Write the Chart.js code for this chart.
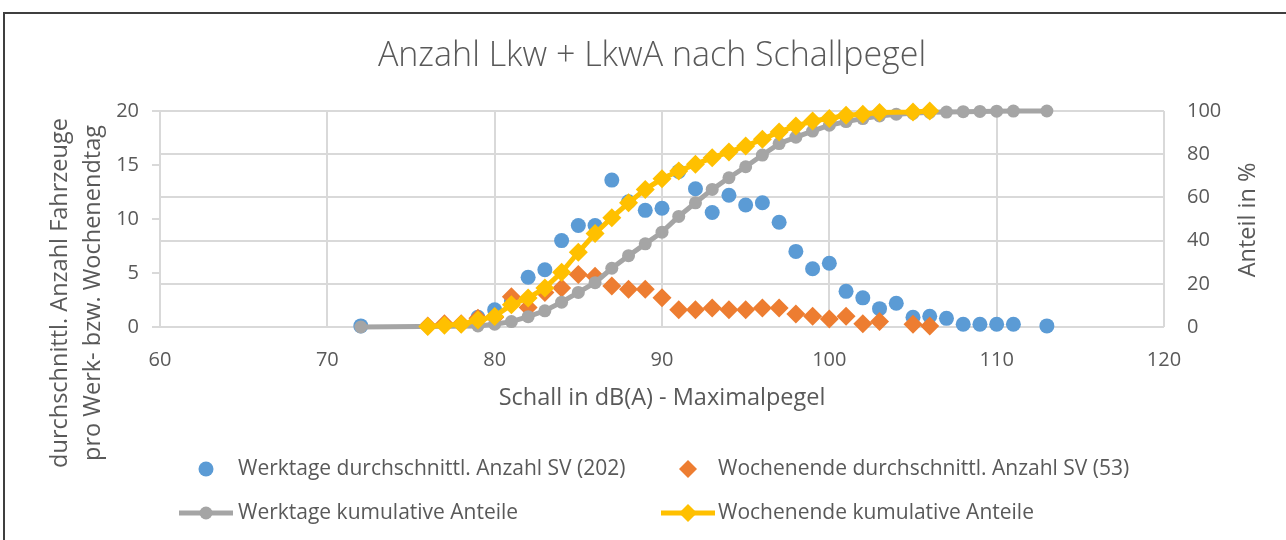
<!DOCTYPE html>
<html>
<head>
<meta charset="utf-8">
<script src="https://cdn.jsdelivr.net/npm/chart.js@4.4.0/dist/chart.umd.min.js"></script>
<style>
  body { margin: 0; background: #fff; }
  canvas { display: block; }
</style>
</head>
<body>
<canvas id="chart" width="1286" height="540"></canvas>
<script>
// Werktage (weekdays)
const werktageX = [72, 79, 80, 81, 82, 83, 84, 85, 86, 87, 88, 89, 90, 91, 92, 93, 94, 95, 96, 97,
    98, 99, 100, 101, 102, 103, 104, 105, 106, 107, 108, 109, 110, 111, 113]
const werktageSV = [0.1, 0.9, 1.6, 2.4, 4.6, 5.3, 8.0, 9.4, 9.4, 13.6, 11.6, 10.8, 11.0, 14.4, 12.8, 10.6, 12.2, 11.3, 11.5, 9.7,
    7.0, 5.4, 5.9, 3.3, 2.7, 1.7, 2.2, 0.9, 1.0, 0.8, 0.25, 0.25, 0.25, 0.25, 0.1]
const werktageKum = [0, 0.5, 1.3, 2.5, 4.8, 7.5, 11.5, 16.0, 20.5, 27.2, 33.0, 38.5, 43.9, 51.2, 57.5, 63.7, 69.1, 74.2, 79.6, 84.9,
    87.9, 90.7, 93.4, 95.1, 96.5, 97.7, 98.5, 98.9, 99.4, 99.5, 99.7, 99.8, 99.9, 99.95, 100]

// Wochenende (weekend)
const wochenendeX = [76, 77, 78, 79, 80, 81, 82, 83, 84, 85, 86, 87, 88, 89, 90,
    91, 92, 93, 94, 95, 96, 97, 98, 99, 100, 101, 102, 103, 105, 106]
const wochenendeSV = [0.1, 0.3, 0.3, 0.8, 0.9, 2.8, 1.8, 3.2, 3.6, 4.85, 4.7, 3.8, 3.5, 3.5, 2.7,
    1.6, 1.6, 1.75, 1.6, 1.6, 1.75, 1.75, 1.2, 1.0, 0.75, 1.0, 0.3, 0.5, 0.25, 0.1]
const wochenendeKum = [0.2, 0.8, 1.3, 3.2, 4.9, 10.3, 13.4, 18.1, 25.3, 34.6, 43.3, 50.6, 57.5, 63.7, 68.6,
    72.2, 75.3, 78.4, 81.0, 83.8, 86.9, 90.3, 93.0, 95.4, 96.5, 98.0, 98.5, 99.3, 99.5, 100]

const seriesNames = [
    'Werktage durchschnittl. Anzahl SV (202)',
    'Wochenende durchschnittl. Anzahl SV (53)',
    'Werktage kumulative Anteile',
    'Wochenende kumulative Anteile'
]
const chartTitle = 'Anzahl Lkw + LkwA nach Schallpegel'
const xTitle = 'Schall in dB(A) - Maximalpegel'
const yTitle = ['durchschnittl. Anzahl Fahrzeuge', 'pro Werk- bzw. Wochenendtag']
const y2Title = 'Anteil in %'

const textColor = '#595959'
const gridColor = '#d9d9d9'
const fontFamily = '"Open Sans", sans-serif'
const blue = '#5B9BD5', orange = '#ED7D31', gray = '#A5A5A5', yellow = '#FFC000'

function toPoints(xs, ys){
    return xs.map((x, i) => ({x: x, y: ys[i]}))
}

function diamond(ctx, x, y, r){
    ctx.beginPath()
    ctx.moveTo(x - r, y)
    ctx.lineTo(x, y - r)
    ctx.lineTo(x + r, y)
    ctx.lineTo(x, y + r)
    ctx.closePath()
    ctx.fill()
}

function dot(ctx, x, y, r){
    ctx.beginPath()
    ctx.arc(x, y, r, 0, Math.PI * 2)
    ctx.fill()
}

// title, axis titles, legend and frame drawn by hand
const chartText = {
    id: 'chartText',
    afterDraw(chart){
        const ctx = chart.ctx
        ctx.save()

        ctx.strokeStyle = '#3f3f3f'
        ctx.lineWidth = 2
        ctx.beginPath()
        ctx.moveTo(4, 540)
        ctx.lineTo(4, 13)
        ctx.lineTo(1286, 13)
        ctx.stroke()

        ctx.fillStyle = textColor
        ctx.textBaseline = 'middle'
        ctx.textAlign = 'center'
        ctx.font = '300 34px ' + fontFamily
        ctx.fillText(chartTitle, 652, 56)

        ctx.font = '23.5px ' + fontFamily
        ctx.fillText(xTitle, 662, 398)

        ctx.save()
        ctx.translate(60, 293)
        ctx.rotate(-Math.PI / 2)
        ctx.fillText(yTitle[0], 0, 0)
        ctx.fillText(yTitle[1], 0, 33)
        ctx.restore()

        ctx.save()
        ctx.translate(1248, 220)
        ctx.rotate(-Math.PI / 2)
        ctx.fillText(y2Title, 0, 0)
        ctx.restore()

        // legend
        ctx.textAlign = 'left'
        ctx.font = '21px ' + fontFamily
        ctx.fillStyle = blue
        dot(ctx, 206, 469, 7.5)
        ctx.fillStyle = orange
        diamond(ctx, 688, 469, 9)

        ctx.lineWidth = 5
        ctx.strokeStyle = gray
        ctx.beginPath(); ctx.moveTo(179, 513); ctx.lineTo(233, 513); ctx.stroke()
        ctx.fillStyle = gray
        dot(ctx, 206, 513, 6.5)
        ctx.strokeStyle = yellow
        ctx.beginPath(); ctx.moveTo(661, 513); ctx.lineTo(715, 513); ctx.stroke()
        ctx.fillStyle = yellow
        diamond(ctx, 688, 513, 9)

        ctx.fillStyle = textColor
        ctx.fillText(seriesNames[0], 238, 469)
        ctx.fillText(seriesNames[1], 718, 469)
        ctx.fillText(seriesNames[2], 238, 513)
        ctx.fillText(seriesNames[3], 718, 513)

        ctx.restore()
    }
}

const tickFont = {family: fontFamily, size: 20}

const ctx = document.getElementById('chart').getContext('2d')
const myChart = new Chart(ctx, {
    type: 'scatter',
    data: {
        datasets: [
            {
                label: seriesNames[0],
                data: toPoints(werktageX, werktageSV),
                yAxisID: 'y',
                showLine: false,
                pointStyle: 'circle',
                pointRadius: 7.5,
                pointBackgroundColor: blue,
                pointBorderColor: blue,
                pointBorderWidth: 0,
                clip: false,
                order: 4
            },
            {
                label: seriesNames[1],
                data: toPoints(wochenendeX, wochenendeSV),
                yAxisID: 'y',
                showLine: false,
                pointStyle: 'rectRot',
                pointRadius: 9.5,
                pointBackgroundColor: orange,
                pointBorderColor: orange,
                pointBorderWidth: 0,
                clip: false,
                order: 3
            },
            {
                label: seriesNames[2],
                data: toPoints(werktageX, werktageKum),
                yAxisID: 'y2',
                showLine: true,
                borderColor: gray,
                borderWidth: 5,
                pointStyle: 'circle',
                pointRadius: 6.5,
                pointBackgroundColor: gray,
                pointBorderColor: gray,
                pointBorderWidth: 0,
                clip: false,
                order: 2
            },
            {
                label: seriesNames[3],
                data: toPoints(wochenendeX, wochenendeKum),
                yAxisID: 'y2',
                showLine: true,
                borderColor: yellow,
                borderWidth: 5,
                pointStyle: 'rectRot',
                pointRadius: 9.5,
                pointBackgroundColor: yellow,
                pointBorderColor: yellow,
                pointBorderWidth: 0,
                clip: false,
                order: 1
            }
        ]
    },
    options: {
        responsive: false,
        animation: false,
        layout: {
            padding: {top: 111, bottom: 173, left: 0, right: 0}
        },
        plugins: {
            legend: {display: false},
            title: {display: false},
            tooltip: {enabled: false}
        },
        scales: {
            x: {
                type: 'linear',
                min: 60,
                max: 120,
                ticks: {stepSize: 10, color: textColor, font: tickFont, padding: 21},
                grid: {color: gridColor, lineWidth: 2, drawTicks: false},
                border: {display: false},
                afterFit(scale){ scale.height = 40 }
            },
            y: {
                position: 'left',
                min: 0,
                max: 20,
                ticks: {stepSize: 5, color: textColor, font: tickFont, padding: 13},
                grid: {drawOnChartArea: false, color: gridColor, lineWidth: 2, tickLength: 8},
                border: {color: gridColor, width: 2},
                afterFit(scale){ scale.width = 160 }
            },
            y2: {
                position: 'right',
                min: 0,
                max: 100,
                ticks: {stepSize: 20, color: textColor, font: tickFont, padding: 23},
                grid: {color: gridColor, lineWidth: 2, drawTicks: false},
                border: {display: false},
                afterFit(scale){ scale.width = 122 }
            }
        }
    },
    plugins: [chartText]
})
</script>
</body>
</html>
